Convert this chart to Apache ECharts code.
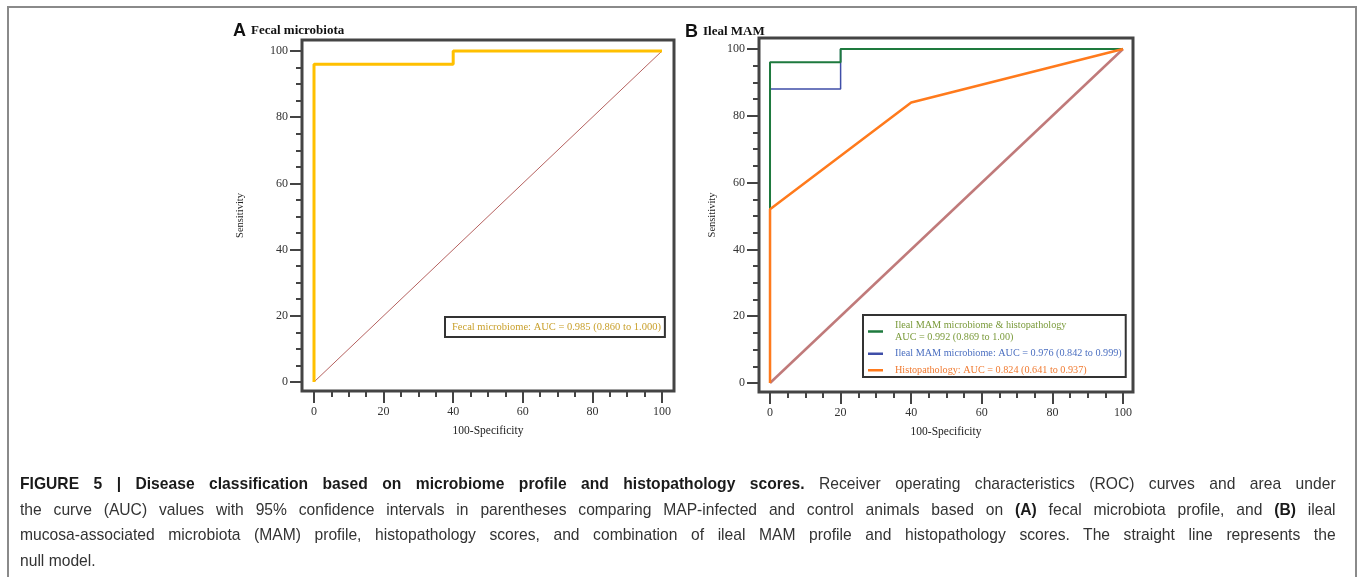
<!DOCTYPE html>
<html>
<head>
<meta charset="utf-8">
<script src="https://cdn.jsdelivr.net/npm/echarts@6/dist/echarts.min.js"></script>
<style>
html, body { margin: 0; padding: 0; background: #fff; }
#frame {
  position: absolute; left: 7px; top: 6px; width: 1346px; height: 580px;
  border: 2px solid #8a8a8a; border-bottom: none;
}
#chart { position: absolute; left: 0; top: 0; width: 1357px; height: 577px; }
#caption {
  position: absolute; left: 20px; top: 471px; width: 1430px;
  transform: scaleX(0.92); transform-origin: left top;
  font-family: "Liberation Sans", Arial, sans-serif; font-size: 17px; color: #333;
}
#caption div { height: 25.7px; line-height: 25.7px; text-align: justify; text-align-last: justify; white-space: nowrap; }
#caption div.last { text-align-last: left; }
#caption b { color: #1a1a1a; }
</style>
</head>
<body>
<div id="frame"></div>
<div id="chart"></div>
<div id="caption">
  <div><b>FIGURE 5 | Disease classification based on microbiome profile and histopathology scores.</b> Receiver operating characteristics (ROC) curves and area under</div>
  <div>the curve (AUC) values with 95% confidence intervals in parentheses comparing MAP-infected and control animals based on <b>(A)</b> fecal microbiota profile, and <b>(B)</b> ileal</div>
  <div>mucosa-associated microbiota (MAM) profile, histopathology scores, and combination of ileal MAM profile and histopathology scores. The straight line represents the</div>
  <div class="last">null model.</div>
</div>
<script>
// panel A
var fecalName = 'Fecal microbiome: AUC = 0.985 (0.860 to 1.000)'
var fecalRoc = [[0, 0], [0, 96], [40, 96], [40, 100], [100, 100]]
// panel B
var comboName = 'Ileal MAM microbiome & histopathology\nAUC = 0.992 (0.869 to 1.00)'
var comboRoc = [[0, 0], [0, 96], [20, 96], [20, 100], [100, 100]]
var mamName = 'Ileal MAM microbiome: AUC = 0.976 (0.842 to 0.999)'
var mamRoc = [[0, 0], [0, 88], [20, 88], [20, 100], [100, 100]]
var histoName = 'Histopathology: AUC = 0.824 (0.641 to 0.937)'
var histoRoc = [[0, 0], [0, 52], [40, 84], [100, 100]]
// null model
var nullLine = [[0, 0], [100, 100]]
// ticks
var majorTicks = [0, 20, 40, 60, 80, 100]
var minorTicks = [5, 10, 15, 25, 30, 35, 45, 50, 55, 65, 70, 75, 85, 90, 95]

var serif = '"Liberation Serif", "Times New Roman", serif'
var sans = '"Liberation Sans", Arial, sans-serif'

// the frame box sits a little outside 0..100, so the ranges are padded
var rangeA = { x: [-3.45, 103.45], y: [-2.72, 103.32] }
var rangeB = { x: [-3.12, 102.83], y: [-2.7, 103.29] }

function xAxisOf(idx, range, minor) {
  return {
    gridIndex: idx, type: 'value', min: range[0], max: range[1], position: 'bottom',
    axisLine: { show: false, onZero: false },
    splitLine: { show: false },
    axisTick: { show: true, inside: false, length: minor ? 6 : 12, customValues: minor ? minorTicks : majorTicks,
      lineStyle: { color: '#444', width: 2 } },
    axisLabel: minor ? { show: false } : { margin: 15, customValues: majorTicks, fontFamily: serif, fontSize: 12, color: '#333' },
    name: minor ? '' : '100-Specificity', nameLocation: 'middle', nameGap: 34,
    nameTextStyle: { fontFamily: serif, fontSize: 11.5, color: '#222' }
  }
}
function yAxisOf(idx, range, minor, gap) {
  return {
    gridIndex: idx, type: 'value', min: range[0], max: range[1], position: 'left',
    axisLine: { show: false, onZero: false },
    splitLine: { show: false },
    axisTick: { show: true, inside: false, length: minor ? 6 : 12, customValues: minor ? minorTicks : majorTicks,
      lineStyle: { color: '#444', width: 2 } },
    axisLabel: minor ? { show: false } : { margin: 14, customValues: majorTicks, fontFamily: serif, fontSize: 12, color: '#333' },
    name: minor ? '' : 'Sensitivity', nameLocation: 'middle', nameGap: gap, nameRotate: 90,
    nameTextStyle: { fontFamily: serif, fontSize: 10.5, color: '#222' }
  }
}
function lineOf(name, data, idx, color, width, z) {
  return {
    name: name, type: 'line', data: data, xAxisIndex: idx, yAxisIndex: idx,
    symbol: 'none', silent: true, animation: false, z: z,
    lineStyle: { color: color, width: width }, itemStyle: { color: color }
  }
}

var chart = echarts.init(document.getElementById('chart'))
chart.setOption({
  animation: false,
  title: [
    {
      left: 228, top: 17,
      text: '{l|A} {t|Fecal microbiota}',
      textStyle: { rich: {
        l: { fontFamily: sans, fontWeight: 'bold', fontSize: 18, color: '#111' },
        t: { fontFamily: serif, fontWeight: 'bold', fontSize: 13, color: '#111' }
      } }
    },
    {
      left: 680, top: 18,
      text: '{l|B} {t|Ileal MAM}',
      textStyle: { rich: {
        l: { fontFamily: sans, fontWeight: 'bold', fontSize: 18, color: '#111' },
        t: { fontFamily: serif, fontWeight: 'bold', fontSize: 13, color: '#111' }
      } }
    }
  ],
  grid: [
    { left: 302, top: 40, width: 372, height: 351, show: true, borderColor: '#444', borderWidth: 3, backgroundColor: 'transparent' },
    { left: 759, top: 38, width: 374, height: 354, show: true, borderColor: '#444', borderWidth: 3, backgroundColor: 'transparent' }
  ],
  xAxis: [xAxisOf(0, rangeA.x, false), xAxisOf(1, rangeB.x, false), xAxisOf(0, rangeA.x, true), xAxisOf(1, rangeB.x, true)],
  yAxis: [yAxisOf(0, rangeA.y, false, 56), yAxisOf(1, rangeB.y, false, 41), yAxisOf(0, rangeA.y, true, 0), yAxisOf(1, rangeB.y, true, 0)],
  legend: [
    {
      left: 445, top: 317, orient: 'vertical', padding: [5, 4, 4, 2],
      borderColor: '#333', borderWidth: 2, backgroundColor: '#fff',
      itemWidth: 0, itemHeight: 0, selectedMode: false,
      textStyle: { fontFamily: serif, fontSize: 10.5, color: '#c9a02c' },
      data: [{ name: fecalName, icon: 'none' }]
    },
    {
      left: 863, top: 315, orient: 'vertical', padding: [5, 4, 1, 5], itemGap: 5,
      borderColor: '#333', borderWidth: 2, backgroundColor: '#fff',
      itemWidth: 15, itemHeight: 2.5, selectedMode: false,
      textStyle: { fontFamily: serif, fontSize: 10.2, lineHeight: 11.5, padding: [0, 0, 0, 7] },
      data: [
        { name: comboName, icon: 'rect', textStyle: { color: '#7a9a3a' } },
        { name: mamName, icon: 'rect', textStyle: { color: '#4a6ec0' } },
        { name: histoName, icon: 'rect', textStyle: { color: '#f07a30' } }
      ]
    }
  ],
  series: [
    lineOf('null A', nullLine, 0, '#b5615f', 1, 2),
    lineOf(fecalName, fecalRoc, 0, '#ffc000', 3, 3),
    lineOf('null B', nullLine, 1, '#c07a7a', 2.5, 2),
    lineOf(mamName, mamRoc, 1, '#3f4ea8', 1.5, 3),
    lineOf(comboName, comboRoc, 1, '#1e7a3e', 2, 4),
    lineOf(histoName, histoRoc, 1, '#ff7a1c', 2.5, 5)
  ]
})
</script>
</body>
</html>
